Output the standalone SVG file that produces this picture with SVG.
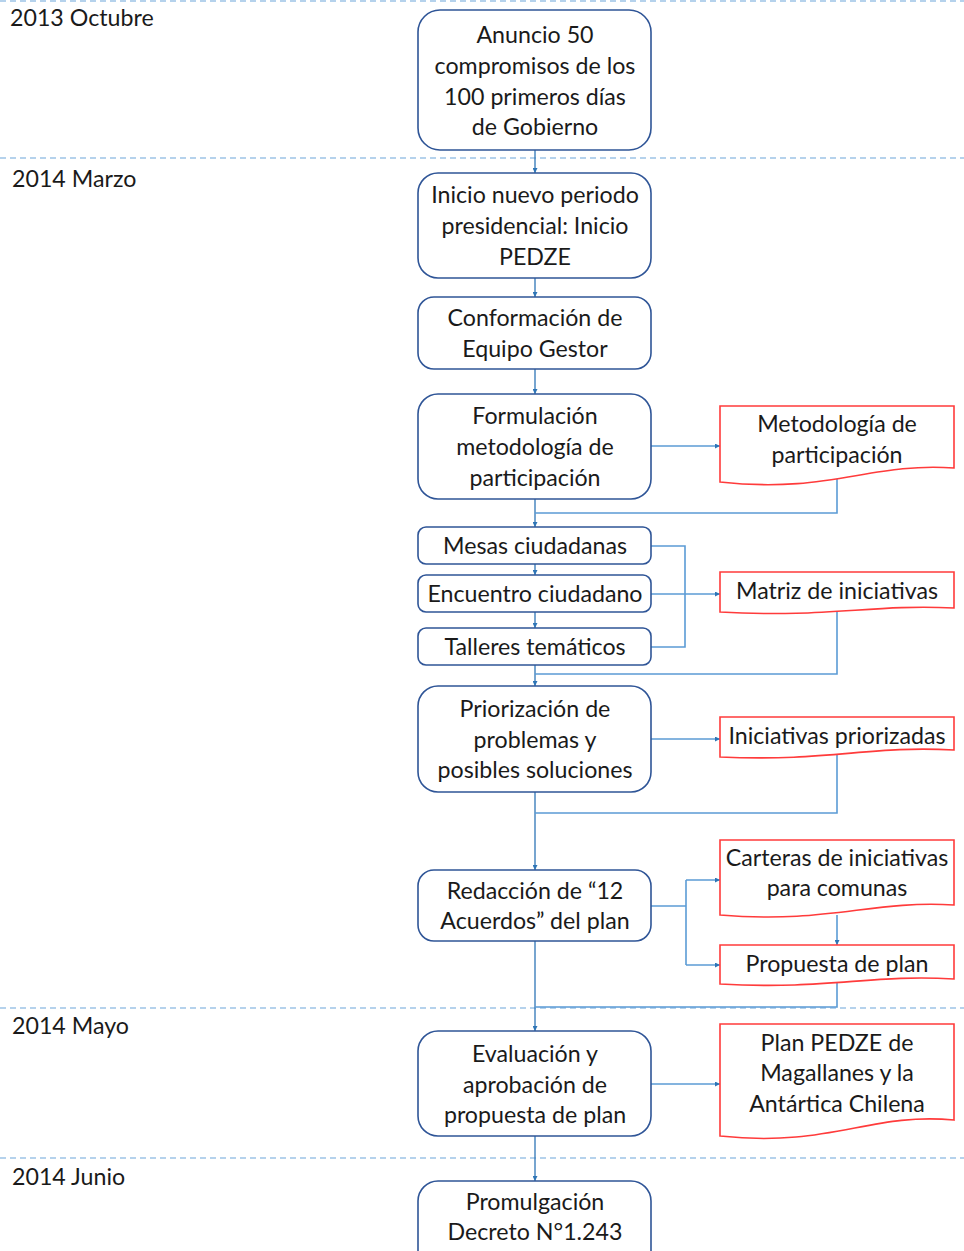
<svg xmlns="http://www.w3.org/2000/svg" width="964" height="1251" viewBox="0 0 964 1251">
  <style>
    text { font-family: Lato, "Open Sans", "Liberation Sans", sans-serif; font-size: 23.2px; fill: #1a1a1a; text-anchor: middle; dominant-baseline: central; }
    .period { text-anchor: start; }
    .step { fill: #ffffff; stroke: #2f5597; stroke-width: 1.6; }
    .doc { fill: #ffffff; stroke: #ff3b3b; stroke-width: 1.6; }
    .sep { stroke: #9dc3e6; stroke-width: 1.5; stroke-dasharray: 6 4; fill: none; }
    .flow { stroke: #2e75b6; stroke-width: 1.3; fill: none; }
    .link { stroke: #5b9bd5; stroke-width: 1.6; fill: none; }
  </style>
  <defs>
    <marker id="arrow" viewBox="0 0 6 6" refX="6" refY="3" markerWidth="5" markerHeight="5" orient="auto" markerUnits="userSpaceOnUse">
      <path d="M0,0 L6,3 L0,6 z" fill="#2e75b6"/>
    </marker>
  </defs>

  <rect width="964" height="1251" fill="#ffffff"/>

  <!-- timeline separators and period labels -->
  <g id="timeline">
    <line class="sep" x1="0" y1="1" x2="964" y2="1"/>
    <line class="sep" x1="0" y1="158" x2="964" y2="158"/>
    <line class="sep" x1="0" y1="1008" x2="964" y2="1008"/>
    <line class="sep" x1="0" y1="1158" x2="964" y2="1158"/>
    <text class="period" x="10" y="17">2013 Octubre</text>
    <text class="period" x="12" y="178">2014 Marzo</text>
    <text class="period" x="12" y="1025">2014 Mayo</text>
    <text class="period" x="12" y="1176">2014 Junio</text>
  </g>

  <!-- connectors -->
  <g id="connectors">
    <line class="flow" x1="535" y1="150" x2="535" y2="173" marker-end="url(#arrow)"/>
    <line class="flow" x1="535" y1="278" x2="535" y2="297" marker-end="url(#arrow)"/>
    <line class="flow" x1="535" y1="369" x2="535" y2="394" marker-end="url(#arrow)"/>
    <line class="flow" x1="535" y1="499" x2="535" y2="527" marker-end="url(#arrow)"/>
    <line class="flow" x1="535" y1="564" x2="535" y2="575" marker-end="url(#arrow)"/>
    <line class="flow" x1="535" y1="612" x2="535" y2="628" marker-end="url(#arrow)"/>
    <line class="flow" x1="535" y1="665" x2="535" y2="686" marker-end="url(#arrow)"/>
    <line class="flow" x1="535" y1="792" x2="535" y2="870" marker-end="url(#arrow)"/>
    <line class="flow" x1="535" y1="941" x2="535" y2="1031" marker-end="url(#arrow)"/>
    <line class="flow" x1="535" y1="1136" x2="535" y2="1181" marker-end="url(#arrow)"/>

    <line class="link" x1="651" y1="446" x2="720" y2="446" marker-end="url(#arrow)"/>
    <polyline class="link" points="837,478 837,513 535,513"/>

    <polyline class="link" points="651,546 685,546 685,647 651,647"/>
    <line class="link" x1="651" y1="594" x2="720" y2="594" marker-end="url(#arrow)"/>
    <polyline class="link" points="837,610 837,674 535,674"/>

    <line class="link" x1="651" y1="739" x2="720" y2="739" marker-end="url(#arrow)"/>
    <polyline class="link" points="837,752 837,813 535,813"/>

    <line class="link" x1="651" y1="906" x2="686" y2="906"/>
    <line class="link" x1="686" y1="880" x2="686" y2="965"/>
    <line class="link" x1="686" y1="880" x2="720" y2="880" marker-end="url(#arrow)"/>
    <line class="link" x1="686" y1="965" x2="720" y2="965" marker-end="url(#arrow)"/>
    <line class="link" x1="837" y1="915" x2="837" y2="945" marker-end="url(#arrow)"/>
    <polyline class="link" points="837,981 837,1007 535,1007"/>

    <line class="link" x1="651" y1="1084" x2="720" y2="1084" marker-end="url(#arrow)"/>
  </g>

  <!-- process steps -->
  <g id="anuncio">
    <rect class="step" x="418" y="10" width="233" height="140" rx="22"/>
    <text x="535" y="34">Anuncio 50</text>
    <text x="535" y="65">compromisos de los</text>
    <text x="535" y="96">100 primeros días</text>
    <text x="535" y="126">de Gobierno</text>
  </g>
  <g id="inicio">
    <rect class="step" x="418" y="173" width="233" height="105" rx="20"/>
    <text x="535" y="194">Inicio nuevo periodo</text>
    <text x="535" y="225">presidencial: Inicio</text>
    <text x="535" y="256">PEDZE</text>
  </g>
  <g id="conformacion">
    <rect class="step" x="418" y="297" width="233" height="72" rx="16"/>
    <text x="535" y="317">Conformación de</text>
    <text x="535" y="348">Equipo Gestor</text>
  </g>
  <g id="formulacion">
    <rect class="step" x="418" y="394" width="233" height="105" rx="20"/>
    <text x="535" y="415">Formulación</text>
    <text x="535" y="446">metodología de</text>
    <text x="535" y="477">participación</text>
  </g>
  <g id="mesas">
    <rect class="step" x="418" y="527" width="233" height="37" rx="8"/>
    <text x="535" y="545">Mesas ciudadanas</text>
  </g>
  <g id="encuentro">
    <rect class="step" x="418" y="575" width="233" height="37" rx="8"/>
    <text x="535" y="593">Encuentro ciudadano</text>
  </g>
  <g id="talleres">
    <rect class="step" x="418" y="628" width="233" height="37" rx="8"/>
    <text x="535" y="646">Talleres temáticos</text>
  </g>
  <g id="priorizacion">
    <rect class="step" x="418" y="686" width="233" height="106" rx="20"/>
    <text x="535" y="708">Priorización de</text>
    <text x="535" y="739">problemas y</text>
    <text x="535" y="769">posibles soluciones</text>
  </g>
  <g id="redaccion">
    <rect class="step" x="418" y="870" width="233" height="71" rx="16"/>
    <text x="535" y="890">Redacción de “12</text>
    <text x="535" y="920">Acuerdos” del plan</text>
  </g>
  <g id="evaluacion">
    <rect class="step" x="418" y="1031" width="233" height="105" rx="20"/>
    <text x="535" y="1053">Evaluación y</text>
    <text x="535" y="1084">aprobación de</text>
    <text x="535" y="1114">propuesta de plan</text>
  </g>
  <g id="promulgacion">
    <rect class="step" x="418" y="1181" width="233" height="90" rx="20"/>
    <text x="535" y="1201">Promulgación</text>
    <text x="535" y="1231">Decreto N°1.243</text>
  </g>

  <!-- output documents -->
  <g id="doc-metodologia">
    <path class="doc" d="M720,406 H954 V468 C870,462 830,494 720,482 Z"/>
    <text x="837" y="423">Metodología de</text>
    <text x="837" y="454">participación</text>
  </g>
  <g id="doc-matriz">
    <path class="doc" d="M720,572 H954 V608 C870,604 830,618 720,612 Z"/>
    <text x="837" y="590">Matriz de iniciativas</text>
  </g>
  <g id="doc-iniciativas">
    <path class="doc" d="M720,717 H954 V750 C870,745 830,762 720,757 Z"/>
    <text x="837" y="735">Iniciativas priorizadas</text>
  </g>
  <g id="doc-carteras">
    <path class="doc" d="M720,840 H954 V905 C870,900 830,924 720,915 Z"/>
    <text x="837" y="857">Carteras de iniciativas</text>
    <text x="837" y="887">para comunas</text>
  </g>
  <g id="doc-propuesta">
    <path class="doc" d="M720,945 H954 V979 C870,974 830,990 720,984 Z"/>
    <text x="837" y="963">Propuesta de plan</text>
  </g>
  <g id="doc-plan">
    <path class="doc" d="M720,1024 H954 V1120 C870,1112 830,1148 720,1136 Z"/>
    <text x="837" y="1042">Plan PEDZE de</text>
    <text x="837" y="1072">Magallanes y la</text>
    <text x="837" y="1103">Antártica Chilena</text>
  </g>
</svg>
